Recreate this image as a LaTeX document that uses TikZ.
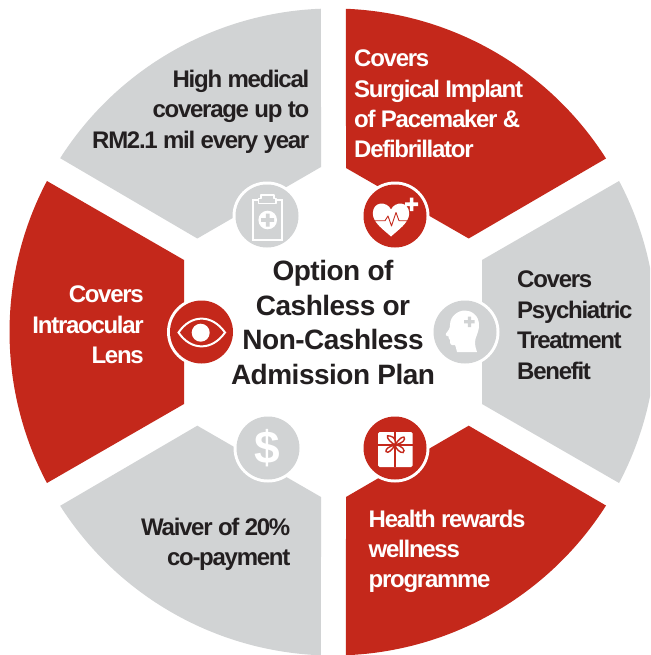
\documentclass[tikz,border=0pt]{standalone}
\usepackage{fontspec}
\setmainfont{Liberation Sans}
\newfontfamily\segfont[LetterSpace=-5.3]{Liberation Sans Bold}
\newfontfamily\midfont[LetterSpace=-1.8]{Liberation Sans Bold}
\definecolor{redc}{HTML}{C4281B}
\definecolor{greyc}{HTML}{D1D3D4}
\definecolor{inkc}{HTML}{231F20}
\newcommand{\segm}[4]{\fill[#1] #4 -- ({333+323.5*cos(#2)},{332+323.5*sin(#2)}) arc[start angle=#2,end angle=#3,radius=323.5] -- cycle;}
\tikzset{
  seglabel/.style={inner sep=0pt,font=\segfont\fontsize{24}{30.4}\selectfont},
  darktext/.style={seglabel,text=inkc},
  lighttext/.style={seglabel,text=white},
  lcol/.style={align=left,anchor=north west},
  rcol/.style={align=right,anchor=north east},
  ring/.style={circle,fill=white,minimum size=69pt,inner sep=0pt},
  disc/.style={circle,minimum size=63pt,inner sep=0pt},
  reddisc/.style={disc,fill=redc},
  greydisc/.style={disc,fill=greyc},
  title/.style={inner sep=0pt,align=center,text=inkc,font=\midfont\fontsize{28}{34.6}\selectfont}
}
\begin{document}
\begin{tikzpicture}[x=1pt,y=-1pt]
\useasboundingbox (0,0) rectangle (650,655);
\clip (0,0) rectangle (650,655);
\fill[white] (0,0) rectangle (650,655);
% segments
\segm{redc}{-87.7}{-32.44}{(468.7,238.5) -- (346,168)}
\segm{greyc}{-27.83}{27.83}{(482,404) -- (482,260)}
\segm{redc}{32.44}{87.7}{(346,497) -- (468.7,425.7)}
\segm{greyc}{92.13}{147.5}{(197.3,425.7) -- (321,497)}
\segm{redc}{152.17}{207.83}{(184,260) -- (184,404)}
\segm{greyc}{212.5}{267.87}{(321,167) -- (197.3,238.5)}
% labels
\node[darktext,rcol] (tl) at (309.5,70) {High medical\\coverage up to\\RM2.1 mil every year};
\node[lighttext,lcol] (tr) at (354,49.8) {Covers\\Surgical Implant\\of Pacemaker \&\\Defibrillator};
\node[darktext,lcol] (rr) at (517,271) {Covers\\Psychiatric\\Treatment\\Benefit};
\node[lighttext,rcol] (ll) at (144,286) {Covers\\Intraocular\\Lens};
\node[darktext,rcol] (bl) at (290.5,518) {Waiver of 20\%\\co-payment};
\node[lighttext,lcol] (br) at (368.5,509.5) {Health rewards\\wellness\\programme};
\node[title] (centre) at (333,322.5) {Option of\\Cashless or\\Non-Cashless\\Admission Plan};
% discs
\node[ring] (r1) at (267,216) {}; \node[greydisc] (d1) at (267,216) {};
\node[ring] (r2) at (395,216) {}; \node[reddisc] (d2) at (395,216) {};
\node[ring] (r3) at (465,332) {}; \node[greydisc] (d3) at (465,332) {};
\node[ring] (r4) at (395,448) {}; \node[reddisc] (d4) at (395,448) {};
\node[ring] (r5) at (268,448) {}; \node[greydisc] (d5) at (268,448) {};
\node[ring] (r6) at (201.5,332) {}; \node[reddisc] (d6) at (201.5,332) {};
% clipboard
\draw[white,line width=2pt,fill=greyc] (253,199.5) -- (281.5,199.5) -- (281.5,239.5) -- (253,239.5) -- cycle;
\draw[white,line width=1.6pt,fill=greyc,line join=round] (258.5,203.5) -- (258.5,198.5) -- (261,198.5) -- (261,195) -- (274,195) -- (274,198.5) -- (276,198.5) -- (276,203.5) -- cycle;
\fill[white] (267.7,220) circle (9.3);
\fill[greyc] (265.9,213.5) rectangle (269.5,226.5) (261.2,218.2) rectangle (274.2,221.8);
% heart
\fill[white] (391,236.5) .. controls (384,230) and (373,223) .. (372.8,213.5) .. controls (372.8,201) and (387,201) .. (391,209.5) .. controls (395,201) and (409,201) .. (409.2,213.5) .. controls (409,223) and (398,230) .. (391,236.5) -- cycle;
\draw[redc,line width=0.9pt,line join=round] (373,220.7) -- (385,220.7) -- (388,216) -- (391.5,226) -- (396,212.5) -- (399,220.7) -- (409,220.7);
\fill[white] (409.8,197.5) rectangle (413.4,211) (405,202.4) rectangle (418.2,206);
% head
\fill[white] (465,310.5) .. controls (471,310.5) and (479,315) .. (479,325) .. controls (479,333) and (475,337) .. (475,342) .. controls (475,346) and (476,349) .. (477,352) -- (457,352) .. controls (456,349) and (456,346) .. (455,345) .. controls (451,346) and (449.5,344) .. (450,340) .. controls (449,338) and (448,338) .. (448.5,336.5) .. controls (446,336) and (445,335) .. (446,333.5) .. controls (448,331) and (450,329) .. (450,325) .. controls (450,316) and (458,310.5) .. (465,310.5) -- cycle;
\fill[greyc] (467.8,316.5) rectangle (471,327) (464.2,320.2) rectangle (474.6,323.4);
% gift
\fill[white,rounded corners=1.5pt] (378,432) rectangle (412.5,467);
\draw[redc,line width=1.3pt] (395,432) -- (395,467) (378,445) -- (412.5,445);
\draw[redc,line width=1.4pt,fill=white] (395,445) .. controls (387,440) and (385,434) .. (390,436) .. controls (395,437) and (396,441) .. (395,445) .. controls (400,437) and (405,435) .. (404.5,439) .. controls (404,442) and (399,444) .. (395,445) .. controls (402,445) and (406,451) .. (403,452.5) .. controls (400,453) and (396,449) .. (395,445) .. controls (392,450) and (388,454) .. (386,451.5) .. controls (385,449) and (390,446) .. (395,445) -- cycle;
% eye
\draw[white,line width=2pt,line join=miter] (178.5,332.5) .. controls (191,314) and (212,314) .. (225,332.5) .. controls (212,351) and (191,351) .. (178.5,332.5) -- cycle;
\fill[white] (200.7,332.7) circle (9);
% dollar
\node[inner sep=0pt,text=white,font=\fontsize{46}{46}\selectfont\bfseries] (dollar) at (267.7,448) {\$};
\end{tikzpicture}
\end{document}
